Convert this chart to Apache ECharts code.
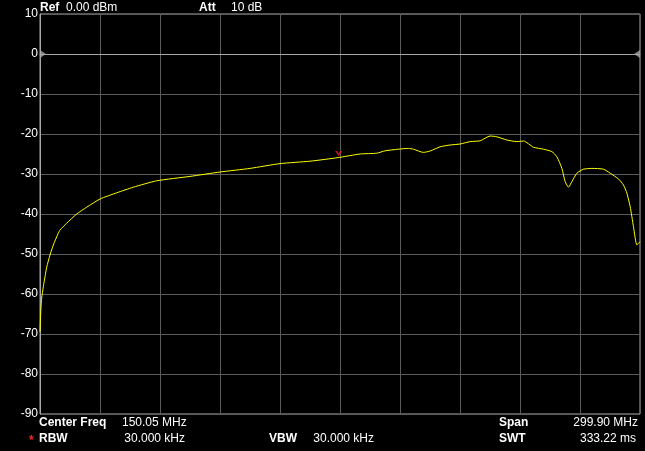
<!DOCTYPE html>
<html>
<head>
<meta charset="utf-8">
<style>html,body{margin:0;padding:0;background:#000;}#c{width:645px;height:451px;}</style>
<script src="https://cdn.jsdelivr.net/npm/echarts@6/dist/echarts.min.js"></script>
</head>
<body>
<div id="c"></div>
<script>
// Sweep settings
const startFreqMHz = 0.1;
const stopFreqMHz = 300.0;
const yTicks = [10, 0, -10, -20, -30, -40, -50, -60, -70, -80, -90];

// Trace (frequency in MHz, level in dBm)
const freqMHz = [0.1, 0.45, 0.95, 1.75, 2.6, 3.45, 5.1, 6.75, 9.25, 10.1, 13.45, 18.45, 23.45, 30.1, 38.45, 46.75, 58.45, 75.1, 90.1, 105.1, 120.1, 135.1, 149.1, 160.1, 168.45, 172.6, 179.25, 184.25, 186.75, 191.75, 195.1, 200.1, 205.1, 210.1, 215.1, 220.1, 225.1, 228.45, 233.45, 238.45, 241.75, 246.75, 251.75, 255.95, 258.45, 260.95, 262.6, 264.25, 265.95, 268.45, 271.75, 275.95, 281.75, 285.1, 289.25, 291.75, 293.45, 295.1, 296.75, 298.45, 300.0];
const levelDbm = [-69.5, -64.75, -61.0, -58.2, -55.7, -53.3, -50.25, -47.75, -44.8, -44.0, -42.3, -40.0, -38.3, -36.25, -34.7, -33.3, -31.7, -30.6, -29.5, -28.6, -27.4, -26.8, -25.9, -25.0, -24.8, -24.2, -23.8, -23.6, -23.8, -24.6, -24.25, -23.2, -22.75, -22.5, -21.9, -21.7, -20.5, -20.7, -21.5, -21.9, -21.75, -23.3, -23.8, -24.4, -25.7, -28.6, -31.9, -33.3, -31.9, -29.8, -28.8, -28.6, -28.8, -29.8, -31.25, -32.75, -34.8, -38.2, -43.2, -47.75, -46.9];

// Marker
const markerFreqMHz = [149.1];
const markerLevelDbm = [-25.9];

const span = stopFreqMHz - startFreqMHz;
const trace = freqMHz.map((f, i) => [f - startFreqMHz, levelDbm[i]]);
const marker = markerFreqMHz.map((f, i) => [f - startFreqMHz, markerLevelDbm[i]]);

const chart = echarts.init(document.getElementById('c'), null, {renderer: 'canvas'});
const lbl = (text, x, y, bold, align, color) => ({
  type: 'text', x: x, y: y,
  style: {text: text, fill: color || '#fff', font: (bold ? 'bold ' : '') + '12px "Liberation Sans", Arial, sans-serif',
    textAlign: align || 'left', textVerticalAlign: 'middle'}
});
chart.setOption({
  backgroundColor: '#000',
  animation: false,
  grid: {left: 40, right: 5, top: 14, bottom: 37, show: true, borderColor: '#a8a8a8', borderWidth: 1, backgroundColor: 'transparent'},
  xAxis: {
    type: 'value', min: 0, max: span, interval: span / 10,
    axisLine: {show: true, lineStyle: {color: '#a8a8a8'}},
    axisTick: {show: false}, axisLabel: {show: false},
    splitLine: {show: true, lineStyle: {color: '#5c5c5c', width: 1}}
  },
  yAxis: {
    type: 'value', min: yTicks[yTicks.length - 1], max: yTicks[0], interval: 10,
    axisLine: {show: true, lineStyle: {color: '#a8a8a8'}},
    axisTick: {show: false},
    axisLabel: {color: '#fff', fontSize: 12, fontFamily: '"Liberation Sans", Arial, sans-serif', margin: 2},
    splitLine: {show: true, lineStyle: {color: '#5c5c5c', width: 1}}
  },
  series: [
    {
      type: 'line', data: trace, showSymbol: false, symbol: 'none',
      lineStyle: {color: '#ffff00', width: 1}, smooth: 0.2, z: 5,
      markLine: {
        silent: true, symbol: 'none', label: {show: false},
        lineStyle: {color: '#a8a8a8', type: 'solid', width: 1},
        data: [{yAxis: 0}]
      }
    },
    {
      type: 'scatter', data: [[0, 0]], symbol: 'triangle', symbolSize: [8, 6], symbolRotate: -90,
      symbolOffset: [3, 0], itemStyle: {color: '#a8a8a8'}, clip: false, silent: true, z: 6
    },
    {
      type: 'scatter', data: [[span, 0]], symbol: 'triangle', symbolSize: [8, 6], symbolRotate: 90,
      symbolOffset: [-3, 0], itemStyle: {color: '#a8a8a8'}, clip: false, silent: true, z: 6
    },
    {
      type: 'scatter', data: marker, symbol: 'path://M0,0 L2.2,0 L4,3 L5.8,0 L8,0 L4,6 Z', symbolSize: [7, 5],
      symbolOffset: [0.5, -4], itemStyle: {color: '#ff1e1e'}, silent: true, z: 7
    }
  ],
  graphic: [
    lbl('Ref', 40, 8, true),
    lbl('0.00 dBm', 66, 8, false),
    lbl('Att', 199, 8, true),
    lbl('10 dB', 231, 8, false),
    lbl('Center Freq', 39, 423, true),
    lbl('150.05 MHz', 122, 423, false),
    lbl('*', 29, 441, true, 'left', '#ff2020'),
    lbl('RBW', 39, 439, true),
    lbl('30.000 kHz', 185, 439, false, 'right'),
    lbl('VBW', 269, 439, true),
    lbl('30.000 kHz', 374, 439, false, 'right'),
    lbl('Span', 499, 423, true),
    lbl('299.90 MHz', 638, 423, false, 'right'),
    lbl('SWT', 499, 439, true),
    lbl('333.22 ms', 636, 439, false, 'right')
  ]
});
</script>
</body>
</html>
